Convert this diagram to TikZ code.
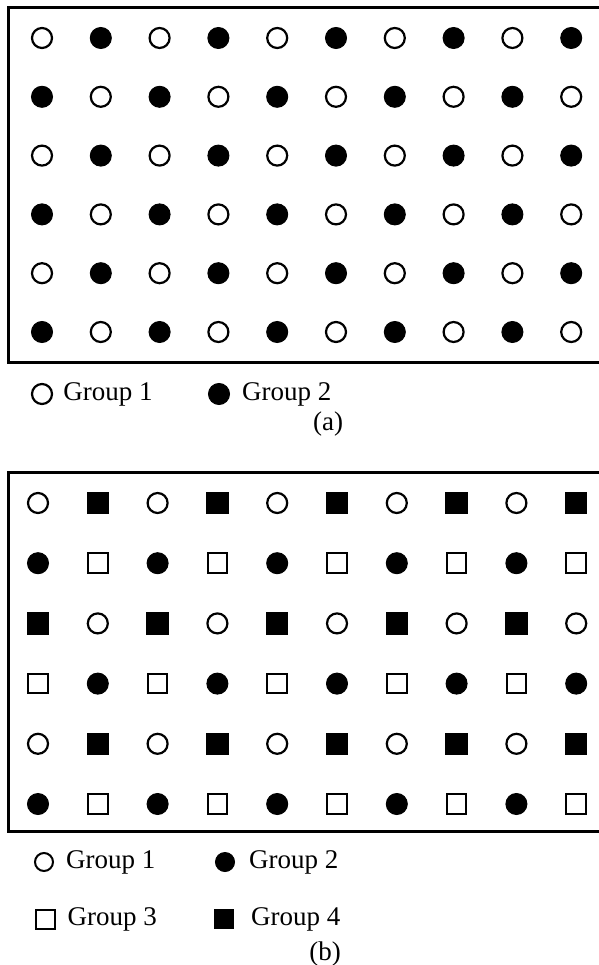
\documentclass[tikz,border=0pt]{standalone}
\usepackage{fontspec}
\setmainfont{Liberation Serif}
\usetikzlibrary{positioning}
\tikzstyle{opendot} = [circle, draw=black, line width=2.2pt, fill=white, minimum size=20pt, inner sep=0pt]
\tikzstyle{fulldot} = [circle, draw=black, line width=1pt, fill=black, minimum size=21pt, inner sep=0pt]
\tikzstyle{openbox} = [rectangle, draw=black, line width=2pt, fill=white, minimum size=19.5pt, inner sep=0pt]
\tikzstyle{fullbox} = [rectangle, draw=black, line width=1pt, fill=black, minimum size=21.5pt, inner sep=0pt]
\tikzstyle{frame} = [line width=3pt]

\begin{document}
\begin{tikzpicture}[x=1pt, y=-1pt, lbl/.style={inner sep=0pt, font=\fontsize{27}{32}\selectfont}]
    \useasboundingbox[fill=white] (0,0) rectangle (598,965);
    % panel (a)
    \draw[frame] (600,7.5) -- (8,7.5) -- (8,362) -- (600,362);
    \foreach \r in {0,...,5} {
        \foreach \c in {0,...,9} {
            \pgfmathparse{int(mod(\r+\c,2))}
            \ifnum\pgfmathresult=0
                \node[opendot] (a-\r-\c) at (42+58.8*\c, 38+58.8*\r) {};
            \else
                \node[fulldot] (a-\r-\c) at (42+58.8*\c, 38+58.8*\r) {};
            \fi
        }
    }
    \node[opendot] (ka1) at (42,394) {};
    \node[lbl, right=10pt of ka1] (ta1) {Group 1};
    \node[fulldot] (ka2) at (219,394) {};
    \node[lbl, right=12pt of ka2] (ta2) {Group 2};
    \node[lbl] (capa) at (328,424) {(a)};
    % panel (b)
    \draw[frame] (600,472) -- (8,472) -- (8,831) -- (600,831);
    \foreach \row [count=\r from 0] in {
        {opendot,fullbox,opendot,fullbox,opendot,fullbox,opendot,fullbox,opendot,fullbox},
        {fulldot,openbox,fulldot,openbox,fulldot,openbox,fulldot,openbox,fulldot,openbox},
        {fullbox,opendot,fullbox,opendot,fullbox,opendot,fullbox,opendot,fullbox,opendot},
        {openbox,fulldot,openbox,fulldot,openbox,fulldot,openbox,fulldot,openbox,fulldot},
        {opendot,fullbox,opendot,fullbox,opendot,fullbox,opendot,fullbox,opendot,fullbox},
        {fulldot,openbox,fulldot,openbox,fulldot,openbox,fulldot,openbox,fulldot,openbox}} {
        \foreach \s [count=\c from 0] in \row {
            \node[\s] (b-\r-\c) at (38+59.8*\c, 503+60.2*\r) {};
        }
    }
    \node[opendot, minimum size=18pt, line width=2pt] (kb1) at (44,862) {};
    \node[lbl, right=12pt of kb1] (tb1) {Group 1};
    \node[fulldot, minimum size=19pt] (kb2) at (225,862) {};
    \node[lbl, right=14pt of kb2] (tb2) {Group 2};
    \node[openbox, minimum size=19pt] (kb3) at (45,919) {};
    \node[lbl, right=12pt of kb3] (tb3) {Group 3};
    \node[fullbox, minimum size=19pt] (kb4) at (224,919) {};
    \node[lbl, right=17pt of kb4] (tb4) {Group 4};
    \node[lbl] (capb) at (325,954) {(b)};
\end{tikzpicture}
\end{document}
